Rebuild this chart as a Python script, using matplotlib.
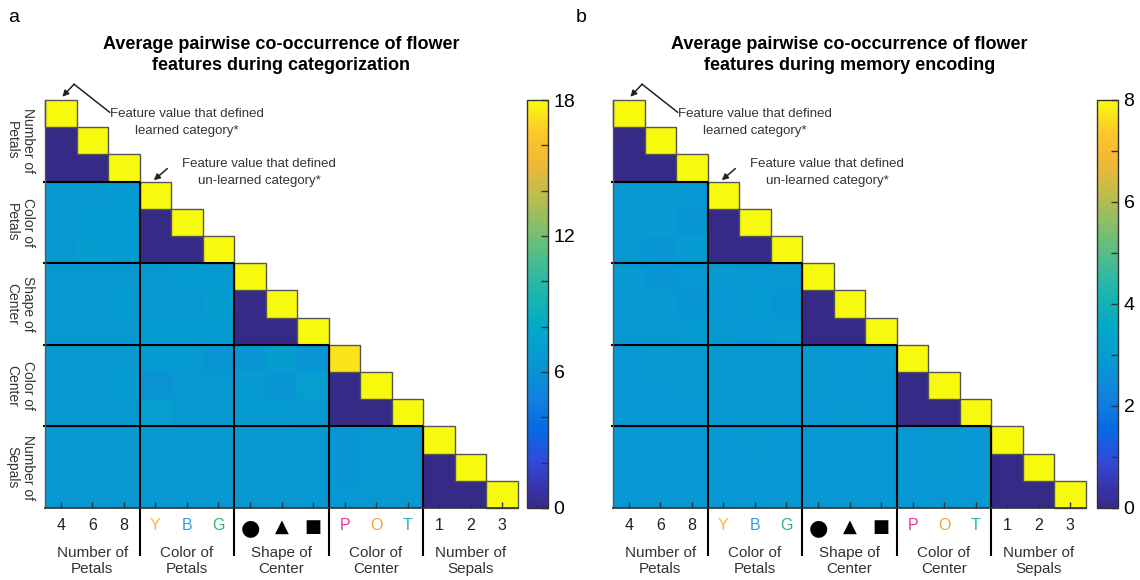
import numpy as np
import matplotlib
matplotlib.use("Agg")
import matplotlib.pyplot as plt
from matplotlib.colors import LinearSegmentedColormap
from matplotlib.patches import Rectangle
from matplotlib.ticker import MultipleLocator

plt.rcParams['font.family'] = ['Liberation Sans', 'DejaVu Sans']

# ---------------- data ----------------
tick_labels = ["4", "6", "8", "Y", "B", "G", "\u25CF", "\u25B2", "\u25A0",
               "P", "O", "T", "1", "2", "3"]
tick_colors = ["#222222"] * 3 + ["#f5b93a", "#3a9ad9", "#2cb673"] + ["black"] * 3 + \
              ["#e8389a", "#f7a13c", "#2bb3b0"] + ["#222222"] * 3
group_names = ["Number of\nPetals", "Color of\nPetals", "Shape of\nCenter",
               "Color of\nCenter", "Number of\nSepals"]

# lower-triangle rows (row i has i+1 values), panel a: categorization
cat_rows = [
    [18],
    [0, 18],
    [0, 0, 18],
    [6.6, 6.6, 6.8, 18],
    [6.6, 6.7, 6.8, 0, 18],
    [6.6, 6.9, 6.7, 0, 0, 18],
    [6.5, 6.5, 6.5, 6.5, 6.8, 6.7, 18],
    [6.5, 6.5, 6.7, 6.6, 6.6, 6.9, 0, 18],
    [6.5, 6.5, 6.6, 6.8, 6.7, 6.8, 0, 0, 18],
    [6.6, 6.6, 6.6, 6.7, 6.8, 6.2, 6.3, 6.9, 6.3, 17.3],
    [6.6, 6.6, 6.7, 6.1, 6.5, 6.6, 6.8, 6.2, 7.0, 0, 18],
    [6.6, 6.6, 6.6, 7.0, 6.5, 6.6, 6.7, 6.7, 6.6, 0, 0, 18],
    [6.5, 6.5, 6.5, 6.5, 6.5, 6.5, 6.5, 6.5, 6.5, 6.3, 6.6, 6.5, 18],
    [6.5, 6.5, 6.5, 6.5, 6.5, 6.5, 6.5, 6.5, 6.5, 6.3, 6.6, 6.5, 0, 18],
    [6.5, 6.5, 6.5, 6.5, 6.5, 6.5, 6.5, 6.5, 6.5, 6.4, 6.6, 6.5, 0, 0, 18],
]

# panel b: memory encoding
mem_rows = [
    [8],
    [0, 8],
    [0, 0, 8],
    [2.9, 2.95, 2.85, 8],
    [2.9, 2.95, 2.8, 0, 8],
    [2.9, 2.78, 3.0, 0, 0, 8],
    [2.95, 2.8, 2.85, 2.95, 2.85, 2.95, 8],
    [2.9, 2.95, 2.78, 2.85, 3.0, 2.78, 0, 8],
    [2.9, 2.9, 3.0, 2.9, 2.85, 2.95, 0, 0, 8],
    [2.85, 2.95, 2.9, 2.92, 2.92, 2.92, 2.9, 2.85, 2.95, 8],
    [2.85, 2.82, 2.9, 2.92, 2.92, 2.92, 2.95, 2.85, 2.82, 0, 8],
    [2.85, 2.85, 2.82, 2.92, 2.92, 2.92, 2.82, 2.95, 2.85, 0, 0, 8],
    [2.85, 2.85, 2.85, 2.85, 2.88, 2.85, 2.82, 2.85, 2.85, 2.85, 2.88, 2.85, 8],
    [2.85, 2.85, 2.82, 2.85, 2.85, 2.82, 2.85, 2.85, 2.82, 2.85, 2.88, 2.85, 0, 8],
    [2.85, 2.85, 2.85, 2.85, 2.85, 2.85, 2.85, 2.82, 2.82, 2.82, 2.85, 2.82, 0, 0, 8],
]

panel_titles = ["Average pairwise co-occurrence of flower\nfeatures during categorization",
                "Average pairwise co-occurrence of flower\nfeatures during memory encoding"]
panel_letters = ["a", "b"]
vmaxes = [18, 8]
cbar_ticks = [[0, 6, 12, 18], [0, 2, 4, 6, 8]]
cbar_minor = [2, 1]
show_row_labels = [True, False]

# ---------------- parula-like colormap ----------------
parula_pts = [
    (0.00, (0.208, 0.166, 0.529)),
    (0.06, (0.225, 0.220, 0.700)),
    (0.12, (0.180, 0.300, 0.860)),
    (0.19, (0.030, 0.410, 0.890)),
    (0.27, (0.070, 0.510, 0.870)),
    (0.35, (0.030, 0.590, 0.830)),
    (0.45, (0.010, 0.670, 0.780)),
    (0.55, (0.150, 0.720, 0.660)),
    (0.65, (0.400, 0.750, 0.480)),
    (0.75, (0.700, 0.740, 0.320)),
    (0.85, (0.950, 0.720, 0.210)),
    (0.92, (0.990, 0.780, 0.170)),
    (1.00, (0.976, 0.983, 0.054)),
]
parula = LinearSegmentedColormap.from_list("parula", parula_pts)
parula.set_bad("white")

fig = plt.figure(figsize=(11.4, 5.8), dpi=100)

W, H = 1140.0, 580.0
ax_specs = [(45, 518, 527), (613, 1086, 1097)]
top_px, bot_px = 100, 508

text_grey = "#333333"

for p, rows in enumerate([cat_rows, mem_rows]):
    n = len(rows)
    M = np.full((n, n), np.nan)
    for i, r in enumerate(rows):
        M[i, :len(r)] = r
    M = np.ma.masked_invalid(M)

    x0, x1, cx = ax_specs[p]
    ax = fig.add_axes([x0 / W, 1 - bot_px / H, (x1 - x0) / W, (bot_px - top_px) / H])
    im = ax.imshow(M, cmap=parula, vmin=0, vmax=vmaxes[p], aspect='auto',
                   interpolation='nearest')
    ax.set_xlim(-0.5, n - 0.5)
    ax.set_ylim(n - 0.5, -0.5)

    for s in ["top", "right"]:
        ax.spines[s].set_visible(False)
    ax.spines["bottom"].set_color("#333333")
    ax.spines["left"].set_color("#555555")
    ax.spines["bottom"].set_linewidth(1.2)
    ax.spines["left"].set_linewidth(1.0)

    ax.set_yticks([])
    ax.set_xticks(range(n))
    ax.set_xticklabels(tick_labels)
    ax.tick_params(axis='x', direction='in', length=4, width=1, color="#333333",
                   pad=7, labelsize=11.5)
    for k, lab in enumerate(ax.get_xticklabels()):
        lab.set_color(tick_colors[k])
        if k in (6, 7, 8):
            lab.set_fontfamily('DejaVu Sans')
            lab.set_fontsize(16 if k == 6 else 13)

    # diagonal cell borders
    for i in range(n):
        ax.add_patch(Rectangle((i - 0.5, i - 0.5), 1, 1, fill=False,
                               ec="#555555", lw=1.0, clip_on=False))

    # block separators
    for b in [3, 6, 9, 12]:
        ax.plot([-0.57, b - 0.5], [b - 0.5, b - 0.5], color="black", lw=1.5,
                clip_on=False, solid_capstyle='butt')
        ax.plot([b - 0.5, b - 0.5], [b - 0.5, n - 0.5 + 1.75], color="black",
                lw=1.5, clip_on=False, solid_capstyle='butt')

    # group labels
    for g, name in enumerate(group_names):
        c = 3 * g + 1
        ax.text(c, n - 0.5 + 1.95, name, ha='center', va='center', fontsize=11,
                color=text_grey, linespacing=1.2)
        if show_row_labels[p]:
            ax.text(-1.3, c, name, ha='center', va='center', fontsize=10,
                    color=text_grey, rotation=-90, linespacing=1.15)

    # annotations
    ax.annotate("", xy=(0.05, -0.62), xytext=(0.42, -1.08),
                arrowprops=dict(arrowstyle="-|>", color="#222222", lw=1.1,
                                mutation_scale=9, shrinkA=0, shrinkB=0),
                annotation_clip=False)
    ax.plot([0.42, 1.55], [-1.08, -0.05], color="#222222", lw=1.1, clip_on=False)
    ax.text(4.0, 0.32, "Feature value that defined\nlearned category*",
            ha='center', va='center', fontsize=9.5, color=text_grey, linespacing=1.55)
    ax.annotate("", xy=(2.95, 2.45), xytext=(3.38, 2.02),
                arrowprops=dict(arrowstyle="-|>", color="#222222", lw=1.1,
                                mutation_scale=9, shrinkA=0, shrinkB=0),
                annotation_clip=False)
    ax.text(6.3, 2.17, "Feature value that defined\nun-learned category*",
            ha='center', va='center', fontsize=9.5, color=text_grey, linespacing=1.55)

    # title & letter
    ax.text((n - 1) / 2, -2.15, panel_titles[p], ha='center', va='center',
            fontsize=13, fontweight='bold', color='black', linespacing=1.3)
    fig.text((x0 - 37) / W, 1 - 18 / H, panel_letters[p], ha='left', va='center',
             fontsize=14, color='black')

    # colorbar
    cax = fig.add_axes([cx / W, 1 - bot_px / H, 21 / W, (bot_px - top_px) / H])
    cb = fig.colorbar(im, cax=cax, ticks=cbar_ticks[p])
    cb.outline.set_linewidth(1.0)
    cb.outline.set_edgecolor("#333333")
    cax.yaxis.set_minor_locator(MultipleLocator(cbar_minor[p]))
    cax.tick_params(which='both', direction='in', length=5, width=1,
                    color="#333333", labelsize=14, pad=4)

fig.savefig("out.png", dpi=100)
